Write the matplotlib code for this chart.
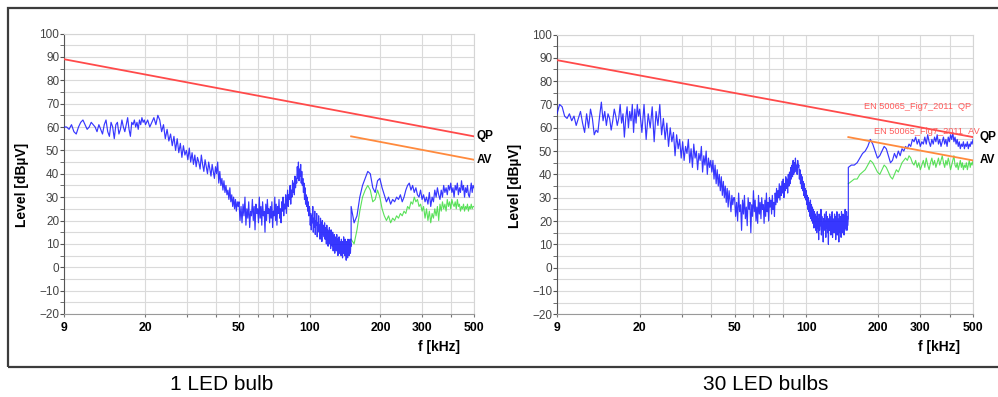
import numpy as np
import matplotlib.pyplot as plt
from matplotlib.patches import Rectangle

plt.rcParams['font.family'] = ['Liberation Sans', 'DejaVu Sans']

# limit lines, dBuV
qp_f = [9, 500]
qp_level = [89, 56]
av_f = [150, 500]
av_level = [56, 46]

# sweep band edges (kHz) for the low band pieces
band_edges = [9, 20, 50, 100, 150]

# ---- 1 LED bulb ----
one_a = [60, 60, 59, 61, 58, 57, 60, 62, 63, 61, 59, 60, 62, 61, 60, 58, 61, 59, 57, 61, 63, 58, 56, 62,
         60, 55, 61, 62, 57, 59, 63, 60, 58, 61, 64, 59, 56, 62, 61, 63, 60, 62, 59, 63, 61, 64, 62, 63]
one_b = [61, 63, 60, 62, 64, 61, 65, 63,
         58, 61, 55, 59, 54,
         57, 52, 56, 50, 55, 49, 53, 47, 52, 48, 50,
         46, 51, 45, 49, 44, 48, 43, 47, 45, 42, 48, 44, 41, 46, 43, 40, 45, 42, 39, 44, 41, 38, 43,
         40, 45, 36, 41, 35, 38, 33, 37, 32, 35, 31,
         33, 29, 34, 28, 31, 26, 30, 25, 29, 24, 28, 26]
one_c = [28, 20, 26, 19, 27, 22, 30, 18, 25, 21, 28, 17, 24, 22, 29, 20, 26, 16, 27, 23, 25, 19, 30, 21,
         26, 18, 28, 22, 24, 15, 27, 20, 29, 23, 25, 19, 26, 21, 28, 17, 24, 22, 30, 20, 27, 18, 26, 23,
         29, 21, 25, 19, 28, 24, 30, 22, 27, 25, 31, 23,
         28, 33, 26, 31, 29, 35, 27, 33, 30, 37, 32, 36, 31, 39, 34, 38,
         36, 43, 38, 45, 37, 42, 39, 44, 36, 41, 35,
         38, 32, 36, 29, 34, 27, 31, 26, 30, 24, 28, 22, 26]
one_d = [25, 18, 23, 16, 22, 19, 26, 15, 21, 17, 24, 14, 20, 18, 23, 13, 19, 16, 22, 15, 18, 12, 21, 17,
         19, 11, 20, 14, 18, 16,
         13, 19, 12, 17, 15, 10, 18, 13, 16, 9, 15, 12, 17, 10, 14, 8, 16, 11, 13, 9, 15, 7, 12, 10,
         14, 6, 13, 9, 11, 7, 14, 8, 12, 5, 10, 9, 13, 6, 11, 8,
         10, 5, 12, 7, 9, 4, 11, 6, 13, 8, 10, 5, 12, 7, 9, 3, 11, 6, 10, 4, 12, 8, 9, 5, 11, 7,
         12, 6, 10, 9]
one_hi_qp = [26, 19, 22, 30, 35, 38, 41, 40, 34, 32, 37, 38, 34, 31, 28, 30, 27, 29, 28, 30,
             29, 31, 28, 30, 33, 35, 36, 33, 35, 32, 34, 31, 30, 33, 29, 31, 28, 30, 27, 32,
             26, 30, 28, 33, 30, 34, 31, 29, 33, 30, 35, 32, 34, 31, 35, 33, 36, 32, 34, 30,
             35, 33, 36, 31, 34, 32, 37, 33, 35, 30, 34, 32, 35, 31, 30, 33, 36, 32, 35, 34]
one_hi_av = [12, 10, 16, 24, 30, 33, 35, 33, 28, 29, 33, 30, 25, 22, 20, 22, 19, 21, 20, 22,
             21, 23, 22, 24, 23, 26, 25, 28, 27, 30, 28, 29, 26, 27, 24, 26, 21, 25, 20, 24,
             19, 23, 21, 25, 22, 26, 20, 27, 24, 28, 25, 27, 24, 29, 26, 28, 25, 29, 27, 26,
             28, 25, 29, 26, 27, 24, 26, 25, 27, 24, 26, 25, 27, 24, 26, 25, 27, 25, 26, 26]

# ---- 30 LED bulbs ----
thirty_a = [66, 70, 69, 65, 64, 66, 63, 65, 61, 64, 67, 62, 58, 66, 60, 68, 64, 57, 59, 58, 65, 71, 63, 67,
            61, 66, 64, 59, 63, 68, 65, 61, 64, 70, 62, 66, 56, 64, 69, 60, 67, 63, 70, 58, 68, 62, 70, 65]
thirty_b = [68, 58, 70, 55, 66, 60, 69, 54, 67, 61, 70, 57,
            64, 55, 62, 52, 60, 54, 58, 48, 57, 51, 55, 47,
            54, 46, 52, 49, 55, 45, 51, 43, 53, 47, 50, 42, 49, 46, 52, 41, 48, 44, 50, 40, 47, 43, 46,
            41, 46, 38, 44, 36, 42, 35, 40, 33, 39, 31, 37, 30, 35, 28, 34, 26, 33, 29, 24, 31, 27, 30]
thirty_c = [30, 22, 28, 20, 32, 24, 27, 16, 29, 23, 31, 21, 26, 18, 30, 25, 28, 15, 27, 22, 33, 24, 29, 20,
            26, 19, 31, 23, 28, 21, 30, 25, 27, 19, 29, 22, 32, 24, 28, 20, 30, 26, 29, 23, 31, 25, 28, 22,
            32, 27,
            34, 28, 33, 30, 36, 29, 35, 31, 37, 32, 38, 30, 36, 33, 39, 34, 38, 32, 40, 35,
            41, 36, 43, 38, 44, 39, 46, 40, 45, 41, 47, 42, 44, 40, 46, 43,
            44, 38, 42, 36, 40, 34, 39, 33, 37, 31, 36, 30, 34, 29]
thirty_d = [33, 27, 31, 25, 30, 24, 28, 22, 29, 21, 27, 20, 26, 19, 25, 17, 24, 18, 23, 16,
            22, 15, 24, 17, 21, 12, 23, 16, 20, 18, 25, 14, 22, 17, 19, 11, 21, 16, 23, 18,
            20, 13, 24, 17, 22, 15, 19, 10, 21, 16, 23, 18, 20, 14, 22, 17, 24, 13, 21, 18,
            19, 15, 23, 16, 22, 12, 20, 17, 24, 14, 21, 18, 19, 11, 23, 16, 22, 15, 20, 13,
            24, 17, 21, 15, 23, 18, 20, 14, 22, 16, 25, 17, 21, 19, 24, 16, 22, 18, 20, 21]
thirty_hi_qp = [43, 44, 44, 45, 47, 49, 50, 52, 55, 53, 50, 47, 48, 50, 52, 51, 48, 45, 46, 49,
                47, 50, 48, 51, 50, 52, 51, 53, 52, 55, 54, 56, 53, 55, 52, 54, 53, 56, 53, 57,
                54, 52, 55, 53, 56, 54, 57, 53, 55, 52, 54, 56, 53, 55, 52, 56, 54, 57, 55, 58,
                54, 56, 53, 55, 52, 54, 51, 53, 52, 54, 51, 53, 52, 54, 51, 53, 52, 54, 53, 55]
thirty_hi_av = [36, 37, 38, 38, 40, 41, 42, 44, 46, 45, 43, 41, 40, 42, 44, 43, 41, 39, 38, 40,
                42, 41, 43, 45, 46, 47, 46, 48, 47, 45, 44, 46, 43, 45, 42, 44, 46, 43, 47, 44,
                42, 45, 47, 44, 46, 43, 45, 47, 44, 46, 48, 45, 43, 46, 44, 47, 45, 42, 44, 46,
                48, 44, 43, 45, 42, 44, 46, 43, 45, 42, 44, 43, 45, 42, 44, 46, 43, 45, 44, 46]

x_ticks = [9, 20, 30, 40, 50, 60, 70, 80, 100, 200, 300, 400, 500]
x_labels = ['9', '20', '', '', '50', '', '', '', '100', '200', '300', '', '500']


def sweep(parts):
    # receiver steps linearly inside each band piece
    f, lv = [], []
    for k, vals in enumerate(parts):
        last = k == len(parts) - 1
        f.append(np.linspace(band_edges[k], band_edges[k + 1], len(vals), endpoint=last))
        lv.append(vals)
    return np.concatenate(f), np.concatenate(lv)


def draw_panel(ax, low_parts, hi_qp, hi_av, label_off):
    f_lo, lv_lo = sweep(low_parts)
    f_hi = np.linspace(150, 500, len(hi_qp))
    f_av = np.linspace(150, 500, len(hi_av))

    ax.plot(f_av, hi_av, color='#3ddc3d', lw=0.8, alpha=0.85, zorder=3)
    ax.plot(np.concatenate([f_lo, f_hi]), np.concatenate([lv_lo, hi_qp]),
            color='#1414ff', lw=0.85, alpha=0.85, zorder=4)
    ax.plot(qp_f, qp_level, color='#ff4a4a', lw=1.3, zorder=5)
    ax.plot(av_f, av_level, color='#ff8a3d', lw=1.3, zorder=5)

    ax.set_xscale('log')
    ax.set_xlim(9, 500)
    ax.set_ylim(-20, 100)
    ax.set_xticks(x_ticks, x_labels)
    ax.xaxis.set_minor_locator(plt.NullLocator())
    ax.set_yticks(range(-20, 101, 10))
    ax.set_yticks(range(-15, 100, 10), minor=True)
    ax.grid(True, which='both', color='#dadada', lw=0.8)
    ax.set_axisbelow(True)

    ax.tick_params(axis='y', which='both', direction='out', length=3, color='#555555',
                   labelsize=8.5, labelcolor='#444444', pad=0.5)
    ax.tick_params(axis='x', direction='out', length=2.5, color='#777777',
                   labelsize=8.8, pad=3)
    for lab in ax.get_xticklabels():
        lab.set_fontweight('bold')

    ax.spines['left'].set_color('#555555')
    ax.spines['bottom'].set_color('#999999')
    for s in ['top', 'right']:
        ax.spines[s].set_color('#d5d5d5')
        ax.spines[s].set_linewidth(0.8)

    ax.set_ylabel('Level [dBµV]', fontweight='bold', fontsize=10)
    ax.yaxis.set_label_coords(-0.085, 0.46)

    ax.annotate('QP', xy=(500, qp_level[1]), xytext=(label_off, 0), textcoords='offset points',
                va='center', ha='left', fontweight='bold', fontsize=8.5, annotation_clip=False)
    ax.annotate('AV', xy=(500, av_level[1]), xytext=(label_off, 0), textcoords='offset points',
                va='center', ha='left', fontweight='bold', fontsize=8.5, annotation_clip=False)


fig = plt.figure(figsize=(9.98, 3.97), dpi=100)
W, H = 998, 397

ax1 = fig.add_axes([64 / W, 1 - 314 / H, 410 / W, 280.5 / H])
ax2 = fig.add_axes([557 / W, 1 - 314.3 / H, 416 / W, 279.8 / H])

draw_panel(ax1, [one_a, one_b, one_c, one_d], one_hi_qp, one_hi_av, 2)
draw_panel(ax2, [thirty_a, thirty_b, thirty_c, thirty_d], thirty_hi_qp, thirty_hi_av, 5)

# limit line names in the 30 bulb plot
ax2.text(490, 69, 'EN 50065_Fig7_2011  QP', color='#ff5a5a', fontsize=6.6,
         ha='right', va='center', zorder=6)
ax2.text(534, 58.3, 'EN 50065_Fig7_2011_AV', color='#ff5a5a', fontsize=6.6,
         ha='right', va='center', zorder=6, clip_on=False)

fig.text(439 / W, 1 - 347 / H, 'f [kHz]', ha='center', va='center', fontweight='bold', fontsize=10)
fig.text(939 / W, 1 - 347 / H, 'f [kHz]', ha='center', va='center', fontweight='bold', fontsize=10)

# outer frame round both plots
fig.patches.append(Rectangle((8 / W, 1 - 367 / H), 1.0, 359 / H, transform=fig.transFigure,
                             fill=False, ec='#3c3c3c', lw=1.6))

fig.text(222 / W, 1 - 384 / H, '1 LED bulb', ha='center', va='center', fontsize=15)
fig.text(766 / W, 1 - 384 / H, '30 LED bulbs', ha='center', va='center', fontsize=15)

fig.savefig('out.png', dpi=100)
